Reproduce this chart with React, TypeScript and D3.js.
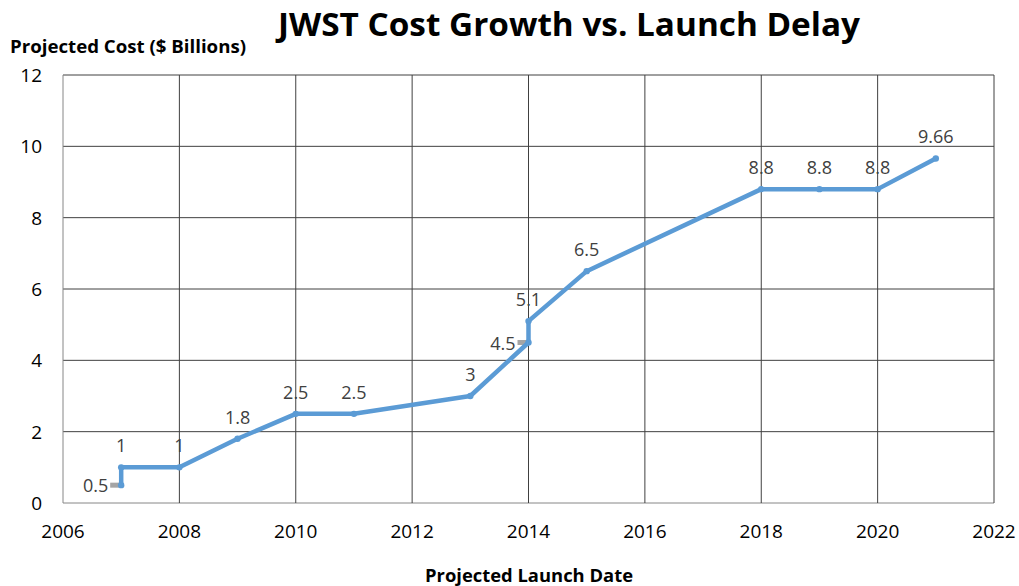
import React from "react";
import * as d3 from "d3";

const years = [2007, 2007, 2008, 2009, 2010, 2011, 2013, 2014, 2014, 2015, 2018, 2019, 2020, 2021];
const costs = [0.5, 1, 1, 1.8, 2.5, 2.5, 3, 4.5, 5.1, 6.5, 8.8, 8.8, 8.8, 9.66];
const labels = ["0.5", "1", "1", "1.8", "2.5", "2.5", "3", "4.5", "5.1", "6.5", "8.8", "8.8", "8.8", "9.66"];
const leftLabelIdx = [0, 7];
const xTicks = [2006, 2008, 2010, 2012, 2014, 2016, 2018, 2020, 2022];
const yTicks = [0, 2, 4, 6, 8, 10, 12];

const W = 1019, H = 586;
const M = { left: 63, right: 994, top: 75, bottom: 503 };
const FONT = "'Open Sans', 'Noto Sans', sans-serif";

export default function App() {
  const x = d3.scaleLinear().domain([2006, 2022]).range([M.left, M.right]);
  const y = d3.scaleLinear().domain([0, 12]).range([M.bottom, M.top]);
  const pts = years.map((yr, i) => [x(yr), y(costs[i])] as [number, number]);
  const line = d3.line()(pts) || "";
  return (
    <svg width={W} height={H} style={{ position: "absolute", left: 0, top: 0, background: "#fff" }}>
      <rect width={W} height={H} fill="#fff" />
      <text x={569} y={36} textAnchor="middle" fontFamily={FONT} fontWeight="bold" fontSize={32} fill="#000" textLength={582} lengthAdjust="spacingAndGlyphs">
        JWST Cost Growth vs. Launch Delay
      </text>
      <text x={10} y={53} fontFamily={FONT} fontWeight="bold" fontSize={18} fill="#000" textLength={236} lengthAdjust="spacingAndGlyphs">
        Projected Cost ($ Billions)
      </text>
      <text x={529} y={582} textAnchor="middle" fontFamily={FONT} fontWeight="bold" fontSize={18} fill="#000" textLength={208} lengthAdjust="spacingAndGlyphs">
        Projected Launch Date
      </text>
      {yTicks.map((t) => (
        <g key={"y" + t}>
          <line x1={M.left} x2={M.right} y1={y(t)} y2={y(t)} stroke={t === 0 ? "#868686" : "#404040"} strokeWidth={1} />
          <text x={42} y={y(t) + 7} textAnchor="end" fontFamily={FONT} fontSize={19} fill="#000">{t}</text>
        </g>
      ))}
      {xTicks.map((t) => (
        <g key={"x" + t}>
          <line x1={x(t)} x2={x(t)} y1={M.top} y2={M.bottom} stroke={t === 2006 ? "#868686" : "#404040"} strokeWidth={1} />
          <text x={x(t)} y={538} textAnchor="middle" fontFamily={FONT} fontSize={19} fill="#000">{t}</text>
        </g>
      ))}
      {leftLabelIdx.map((i) => (
        <rect key={"g" + i} x={pts[i][0] - 11} y={pts[i][1] - 2.5} width={11} height={5} fill="#a5a5a5" />
      ))}
      <path d={line} fill="none" stroke="#5b9bd5" strokeWidth={4.5} strokeLinejoin="round" strokeLinecap="round" />
      {pts.map((p, i) => (
        <circle key={"c" + i} cx={p[0]} cy={p[1]} r={3.2} fill="#5b9bd5" />
      ))}
      {pts.map((p, i) =>
        leftLabelIdx.includes(i) ? (
          <text key={"l" + i} x={p[0] - 13} y={p[1] + 7} textAnchor="end" fontFamily={FONT} fontSize={18} fill="#404040">{labels[i]}</text>
        ) : (
          <text key={"l" + i} x={p[0]} y={p[1] - 15} textAnchor="middle" fontFamily={FONT} fontSize={18} fill="#404040">{labels[i]}</text>
        )
      )}
    </svg>
  );
}
